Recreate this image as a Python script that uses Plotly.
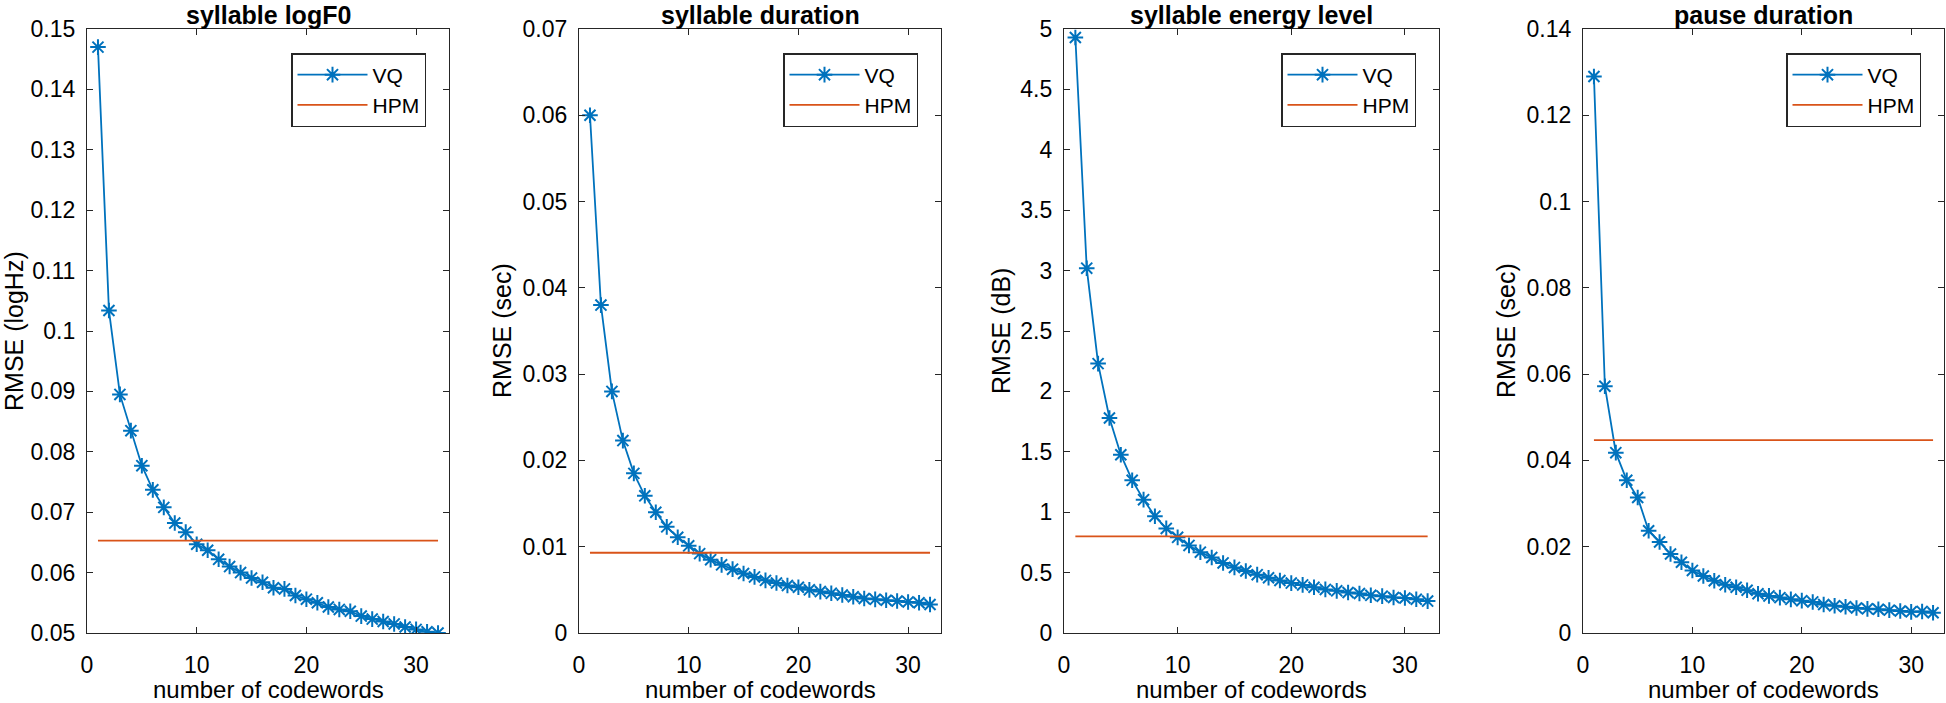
import plotly.graph_objects as go

codewords = list(range(1, 33))

logf0_vq = [0.147, 0.1034, 0.0895, 0.0835, 0.0777, 0.0737, 0.0708, 0.0682, 0.0667, 0.0647,
            0.0637, 0.0622, 0.0610, 0.0600, 0.0591, 0.0584, 0.0575, 0.0573, 0.0562, 0.0556,
            0.0550, 0.0543, 0.0539, 0.0536, 0.0528, 0.0523, 0.0519, 0.0515, 0.0510, 0.0506,
            0.0502, 0.0500]
logf0_hpm = 0.0653

dur_vq = [0.0600, 0.0380, 0.0280, 0.0223, 0.0185, 0.0159, 0.0140, 0.0123, 0.0111, 0.0101,
          0.0092, 0.0085, 0.0079, 0.0074, 0.0069, 0.0065, 0.0061, 0.0058, 0.0055, 0.0053,
          0.0050, 0.0048, 0.0046, 0.0044, 0.0042, 0.0040, 0.0039, 0.0038, 0.0037, 0.0036,
          0.0035, 0.0033]
dur_hpm = 0.0093

energy_vq = [4.93, 3.02, 2.23, 1.78, 1.476, 1.264, 1.104, 0.967, 0.866, 0.792,
             0.725, 0.669, 0.625, 0.580, 0.543, 0.513, 0.483, 0.457, 0.435, 0.413,
             0.398, 0.379, 0.361, 0.349, 0.335, 0.327, 0.312, 0.305, 0.294, 0.290,
             0.279, 0.264]
energy_hpm = 0.80

pause_vq = [0.129, 0.0572, 0.0418, 0.0354, 0.0314, 0.0237, 0.0211, 0.0183, 0.0164, 0.0145,
            0.0132, 0.0121, 0.0112, 0.0106, 0.0099, 0.0091, 0.0086, 0.0082, 0.0078, 0.0075,
            0.0072, 0.0066, 0.0063, 0.0061, 0.0058, 0.0056, 0.0055, 0.0053, 0.0051, 0.0049,
            0.0050, 0.0047]
pause_hpm = 0.0447

titles = ["syllable logF0", "syllable duration", "syllable energy level", "pause duration"]
ylabels = ["RMSE (logHz)", "RMSE (sec)", "RMSE (dB)", "RMSE (sec)"]
xlabel = "number of codewords"
yranges = [[0.05, 0.15], [0, 0.07], [0, 5], [0, 0.14]]
ydticks = [0.01, 0.01, 0.5, 0.02]
xticks = [0, 10, 20, 30]

vq_sets = [logf0_vq, dur_vq, energy_vq, pause_vq]
hpm_vals = [logf0_hpm, dur_hpm, energy_hpm, pause_hpm]

W, H = 1946, 703
# plot areas in pixels (left, right)
px_x = [(87, 449), (579, 941), (1064, 1439), (1583, 1944)]
px_top, px_bot = 29, 633
ylabel_cx = [14, 502, 1001, 1506]

BLUE = "#0072BD"
ORANGE = "#D95319"
AX = "#262626"
FONT = "Liberation Sans, Arial, sans-serif"

fig = go.Figure()
layout = dict(
    width=W, height=H,
    margin=dict(l=0, r=0, t=0, b=0, autoexpand=False),
    paper_bgcolor="white", plot_bgcolor="white",
    font=dict(family=FONT, color="black", size=23),
    showlegend=True,
    annotations=[],
)

for i in range(4):
    n = "" if i == 0 else str(i + 1)
    xa, ya = "x" + n, "y" + n
    lg = "legend" + n
    fig.add_trace(go.Scatter(
        x=codewords, y=vq_sets[i], mode="lines+markers", name="VQ",
        line=dict(color=BLUE, width=1.8),
        marker=dict(symbol="asterisk-open", size=13, color=BLUE, line=dict(color=BLUE, width=2)),
        xaxis=xa, yaxis=ya, legend=lg,
    ))
    fig.add_trace(go.Scatter(
        x=codewords, y=[hpm_vals[i]] * len(codewords), mode="lines", name="HPM",
        line=dict(color=ORANGE, width=1.8),
        xaxis=xa, yaxis=ya, legend=lg,
    ))
    l, r = px_x[i]
    common = dict(showline=True, linecolor=AX, linewidth=1.2, mirror="ticks",
                  ticks="inside", ticklen=6, tickcolor=AX, tickwidth=1.2,
                  showgrid=False, zeroline=False, automargin=False,
                  tickfont=dict(family=FONT, size=23, color="black"))
    layout["xaxis" + n] = dict(domain=[l / W, r / W], range=[0, 33], tickvals=xticks,
                               anchor=ya, ticklabelstandoff=11, **common)
    layout["yaxis" + n] = dict(domain=[1 - px_bot / H, 1 - px_top / H], range=yranges[i],
                               dtick=ydticks[i], tick0=0, anchor=xa, ticklabelstandoff=6, **common)
    layout[lg] = dict(
        x=(r - 23) / W, y=1 - 53 / H, xanchor="right", yanchor="top",
        xref="paper", yref="paper",
        bgcolor="white", bordercolor=AX, borderwidth=1.5,
        font=dict(family=FONT, size=21, color="black"),
        itemwidth=70, tracegroupgap=0,
    )
    cx = (l + r) / 2 / W
    layout["annotations"].append(dict(
        text="<b>" + titles[i] + "</b>", x=cx, y=1 - 15 / H, xref="paper", yref="paper",
        xanchor="center", yanchor="middle", showarrow=False,
        font=dict(family=FONT, size=25, color="black")))
    layout["annotations"].append(dict(
        text=xlabel, x=cx, y=1 - 689 / H, xref="paper", yref="paper",
        xanchor="center", yanchor="middle", showarrow=False,
        font=dict(family=FONT, size=24, color="black")))
    layout["annotations"].append(dict(
        text=ylabels[i], x=ylabel_cx[i] / W, y=1 - 331 / H, xref="paper", yref="paper",
        xanchor="center", yanchor="middle", textangle=-90, showarrow=False,
        font=dict(family=FONT, size=25, color="black")))

fig.update_layout(**layout)
fig.write_html("out.html", config={"displayModeBar": False},
               post_script="document.body.style.margin='0';document.body.style.overflow='hidden';")
